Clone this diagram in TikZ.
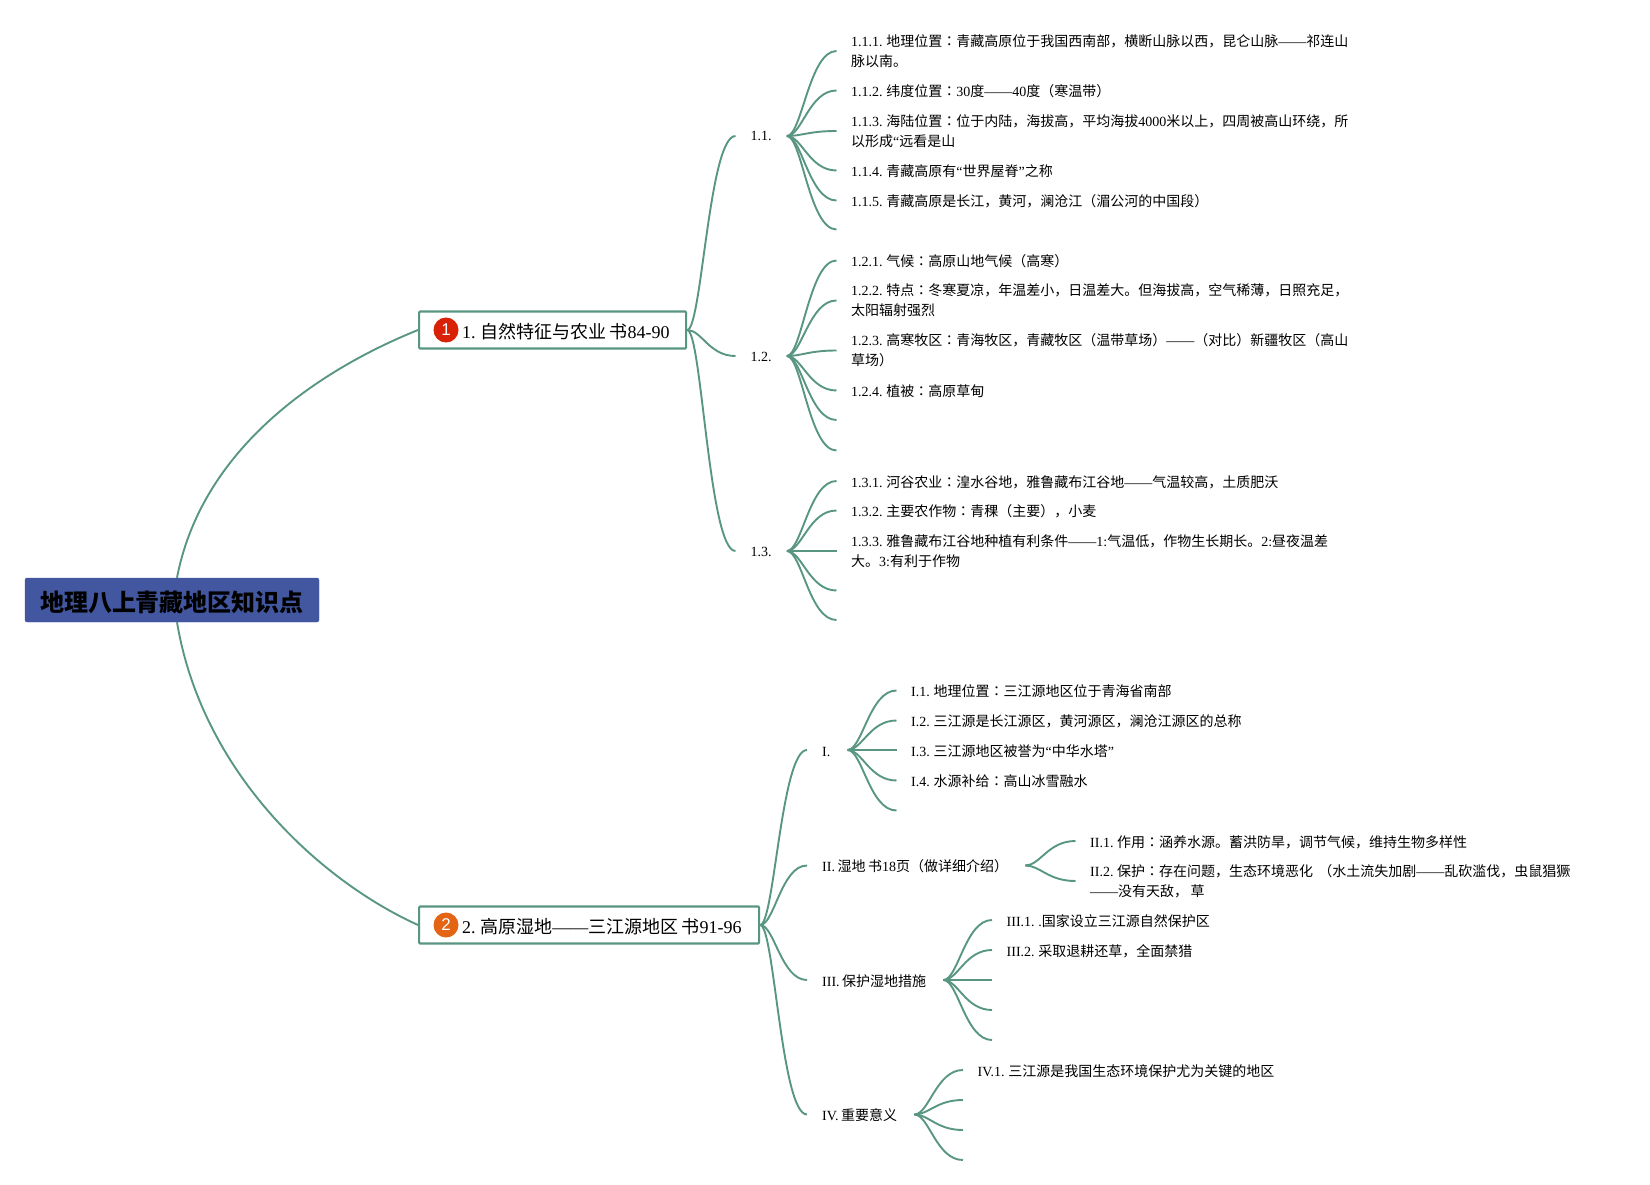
\documentclass[tikz,border=0pt]{standalone}
\usepackage{fontspec}
\setmainfont[WordSpace=0.72]{Liberation Serif}
\newfontfamily\cjk{Noto Sans CJK SC}
\newfontfamily\cjktc{Noto Sans CJK TC}
\newfontfamily\badgefont{Liberation Sans}
\newcommand{\zh}[1]{{\cjk #1}}
\newcommand{\zhc}{{\cjktc ：}}
\usetikzlibrary{positioning,calc}
\definecolor{mmedge}{RGB}{88,150,130}
\definecolor{mmroot}{RGB}{66,87,160}
\definecolor{mmred}{RGB}{217,33,8}
\definecolor{mmorange}{RGB}{227,100,20}
\tikzset{
  rootbox/.style={
    fill=mmroot, draw=mmroot, rounded corners=2pt, inner sep=0pt,
    minimum width=294pt, minimum height=44pt, text height=24pt, text depth=2pt,
    font=\fontsize{24}{28}\selectfont\bfseries
  },
  secbox/.style={
    draw=mmedge, fill=white, line width=2.2pt, rounded corners=1pt, anchor=west,
    minimum height=37pt, inner ysep=0pt, inner xsep=0pt, align=flush left,
    text height=18pt, text depth=2pt,
    font=\fontsize{18}{22}\selectfont
  },
  badge/.style={
    circle, inner sep=0pt, minimum size=25pt, text=white,
    font=\fontsize{17}{20}\badgefont
  },
  textbase/.style={
    anchor=west, inner xsep=15pt, inner ysep=0pt, align=left,
    font=\fontsize{14}{20}\selectfont
  },
  label/.style={
    textbase,
    execute at begin node={\rule{0pt}{14.6pt}},
    execute at end node={\rule[-2pt]{0pt}{2pt}}
  },
  numlabel/.style={textbase, text height=10pt, text depth=0pt},
  leaf/.style={label, inner xsep=14.5pt},
  twoline/.style={
    textbase, inner xsep=14.5pt,
    execute at begin node={\vspace*{5pt}}
  },
  branch/.style={
    draw=mmedge, line width=1.9pt,
    to path={.. controls ($(\tikztostart)!.3!(\tikztotarget |- \tikztostart)$)
      and ($(\tikztotarget)!.55!(\tikztostart |- \tikztotarget)$) .. (\tikztotarget)}
  }
}
\begin{document}
\begin{tikzpicture}[x=1pt,y=-1pt]
  \useasboundingbox (0,0) rectangle (1650,1185);
  \node[rootbox] (root) at (172,600) {\zh{地理八上青藏地区知识点}};
  \node[secbox, minimum width=267pt, text width=267pt] (sec1) at (418,330)
    {\hspace*{43pt}1. \zh{自然特征与农业} \zh{书}84-90};
  \node[secbox, minimum width=340pt, text width=340pt] (sec2) at (418,925)
    {\hspace*{43pt}2. \zh{高原湿地}——\zh{三江源地区} \zh{书}91-96};
  \node[badge, fill=mmred] (badge1) at ($(sec1.west)+(28,0)$) {1};
  \node[badge, fill=mmorange] (badge2) at ($(sec2.west)+(28,0)$) {2};
  \coordinate (rootup) at ($(root.north)+(5,0)$);
  \coordinate (rootdown) at ($(root.south)+(5,0)$);
  \draw[branch] (rootup) .. controls (202,448) and (319,370) .. (sec1.west);
  \draw[branch] (rootdown) .. controls (202,772) and (319,880) .. (sec2.west);

  % first section
  \node[numlabel] (t11) at (735.5,136) {1.1.};
  \node[numlabel] (t12) at (735.5,356) {1.2.};
  \node[numlabel] (t13) at (735.5,551) {1.3.};
  \foreach \e in {t11,t12,t13} \draw[branch] (sec1.east) to (\e.west);

  \node[twoline] (t111) at (836.5,51) {1.1.1. \zh{地理位置}\zhc\zh{青藏高原位于我国西南部，横断山脉以西，昆仑山脉}——\zh{祁连山}\\\zh{脉以南。}};
  \node[leaf] (t112) at (836.5,90.5) {1.1.2. \zh{纬度位置}\zhc 30\zh{度}——40\zh{度（寒温带）}};
  \node[twoline] (t113) at (836.5,131) {1.1.3. \zh{海陆位置}\zhc\zh{位于内陆，海拔高，平均海拔}4000\zh{米以上，四周被高山环绕，所}\\\zh{以形成}“\zh{远看是山}};
  \node[leaf] (t114) at (836.5,170.5) {1.1.4. \zh{青藏高原有}“\zh{世界屋脊}”\zh{之称}};
  \node[leaf] (t115) at (836.5,200.5) {1.1.5. \zh{青藏高原是长江，黄河，澜沧江（湄公河的中国段）}};
  \coordinate (t116) at (836.5,229.5);
  \foreach \e in {t111,t112,t113,t114,t115,t116} \draw[branch] (t11.east) to (\e.west);

  \node[leaf] (t121) at (836.5,260.5) {1.2.1. \zh{气候}\zhc\zh{高原山地气候（高寒）}};
  \node[twoline] (t122) at (836.5,300.5) {1.2.2. \zh{特点}\zhc\zh{冬寒夏凉，年温差小，日温差大。但海拔高，空气稀薄，日照充足，}\\\zh{太阳辐射强烈}};
  \node[twoline] (t123) at (836.5,350.5) {1.2.3. \zh{高寒牧区}\zhc\zh{青海牧区，青藏牧区（温带草场）}——\zh{（对比）新疆牧区（高山}\\\zh{草场）}};
  \node[leaf] (t124) at (836.5,390.5) {1.2.4. \zh{植被}\zhc\zh{高原草甸}};
  \coordinate (t125) at (836.5,420);
  \coordinate (t126) at (836.5,450.5);
  \foreach \e in {t121,t122,t123,t124,t125,t126} \draw[branch] (t12.east) to (\e.west);

  \node[leaf] (t131) at (836.5,481) {1.3.1. \zh{河谷农业}\zhc\zh{湟水谷地，雅鲁藏布江谷地}——\zh{气温较高，土质肥沃}};
  \node[leaf] (t132) at (836.5,510.5) {1.3.2. \zh{主要农作物}\zhc\zh{青稞（主要），小麦}};
  \node[twoline] (t133) at (836.5,551) {1.3.3. \zh{雅鲁藏布江谷地种植有利条件}——1:\zh{气温低，作物生长期长。}2:\zh{昼夜温差}\\\zh{大。}3:\zh{有利于作物}};
  \coordinate (t134) at (836.5,590.5);
  \coordinate (t135) at (836.5,620);
  \foreach \e in {t131,t132,t133,t134,t135} \draw[branch] (t13.east) to (\e.west);

  % second section
  \node[label] (t21) at (807,750) {I.\hspace*{2pt}};
  \node[label] (t22) at (807,865.5) {II. \zh{湿地} \zh{书}18\zh{页（做详细介绍）}\hspace*{2pt}};
  \node[label] (t23) at (807,980) {III. \zh{保护湿地措施}\hspace*{2pt}};
  \node[label] (t24) at (807,1114.5) {IV. \zh{重要意义}\hspace*{2pt}};
  \foreach \e in {t21,t22,t23,t24} \draw[branch] (sec2.east) to (\e.west);

  \node[leaf] (t211) at (896.5,690.5) {I.1. \zh{地理位置}\zhc\zh{三江源地区位于青海省南部}};
  \node[leaf] (t212) at (896.5,720.5) {I.2. \zh{三江源是长江源区，黄河源区，澜沧江源区的总称}};
  \node[leaf] (t213) at (896.5,750) {I.3. \zh{三江源地区被誉为}“\zh{中华水塔}”};
  \node[leaf] (t214) at (896.5,780.5) {I.4. \zh{水源补给}\zhc\zh{高山冰雪融水}};
  \coordinate (t215) at (896.5,810.5);
  \foreach \e in {t211,t212,t213,t214,t215} \draw[branch] (t21.east) to (\e.west);

  \node[leaf] (t221) at (1075.5,841) {II.1. \zh{作用}\zhc\zh{涵养水源。蓄洪防旱，调节气候，维持生物多样性}};
  \node[twoline] (t222) at (1075.5,881) {II.2. \zh{保护}\zhc\zh{存在问题，生态环境恶化} \ \zh{（水土流失加剧}——\zh{乱砍滥伐，虫鼠猖獗}\\——\zh{没有天敌，} \zh{草}};
  \foreach \e in {t221,t222} \draw[branch] (t22.east) to (\e.west);

  \node[leaf] (t231) at (992,920) {III.1. .\zh{国家设立三江源自然保护区}};
  \node[leaf] (t232) at (992,950) {III.2. \zh{采取退耕还草，全面禁猎}};
  \coordinate (t233) at (992,980);
  \coordinate (t234) at (992,1010);
  \coordinate (t235) at (992,1040);
  \foreach \e in {t231,t232,t233,t234,t235} \draw[branch] (t23.east) to (\e.west);

  \node[leaf] (t241) at (963,1070) {IV.1. \zh{三江源是我国生态环境保护尤为关键的地区}};
  \coordinate (t242) at (963,1100);
  \coordinate (t243) at (963,1130);
  \coordinate (t244) at (963,1160);
  \foreach \e in {t241,t242,t243,t244} \draw[branch] (t24.east) to (\e.west);
\end{tikzpicture}
\end{document}
